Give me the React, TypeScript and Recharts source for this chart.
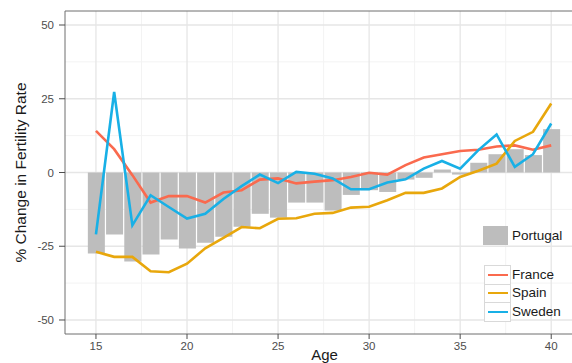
import React from "react";
import { Bar, CartesianGrid, ComposedChart, Line, ReferenceLine, XAxis, YAxis } from "recharts";

// values
const ages = [15, 16, 17, 18, 19, 20, 21, 22, 23, 24, 25, 26, 27, 28, 29, 30, 31, 32, 33, 34, 35, 36, 37, 38, 39, 40];
const portugal = [-27.5, -21.0, -30.2, -27.8, -22.7, -25.8, -23.8, -21.8, -18.4, -14.0, -15.3, -10.2, -10.2, -12.9, -7.6, -6.0, -6.6, -2.4, -1.8, 1.0, -0.7, 3.3, 6.2, 7.9, 5.9, 14.7];
const france = [14.1, 7.9, -0.9, -10.2, -8.0, -8.0, -10.2, -6.8, -6.0, -2.4, -2.0, -3.7, -3.1, -2.6, -1.5, -0.1, -0.7, 2.5, 5.1, 6.2, 7.3, 7.7, 8.8, 9.2, 7.7, 9.2];
const spain = [-26.9, -28.6, -28.6, -33.5, -33.8, -30.9, -25.7, -22.2, -18.5, -18.9, -15.7, -15.5, -14.0, -13.7, -11.9, -11.6, -9.4, -6.9, -6.9, -5.4, -1.5, 0.6, 3.0, 10.7, 13.8, 23.4];
const sweden = [-21.0, 27.3, -17.9, -7.7, -11.7, -15.6, -14.0, -9.0, -4.6, -0.7, -3.6, 0.2, -0.4, -2.0, -5.7, -5.7, -3.4, -2.3, 1.3, 3.9, 1.3, 7.6, 12.9, 1.9, 6.2, 16.6];

const xTicks = [15, 20, 25, 30, 35, 40];
const yTicks = [-50, -25, 0, 25, 50];
const xMinor = [17.5, 22.5, 27.5, 32.5, 37.5];
const yMinor = [-37.5, -12.5, 12.5, 37.5];

const lineSeries = [
  { key: "France", color: "#fa6a4e", values: france },
  { key: "Spain", color: "#e8a70c", values: spain },
  { key: "Sweden", color: "#18b0e6", values: sweden },
];

const data = ages.map((age, i) => ({
  age,
  Portugal: portugal[i],
  France: france[i],
  Spain: spain[i],
  Sweden: sweden[i],
}));

const font = "'Liberation Sans', Arial, Helvetica, sans-serif";
const tickStyle = { fontSize: 11.5, fill: "#4d4d4d", fontFamily: font };

export default function App() {
  return (
    <div style={{ position: "absolute", left: 0, top: 0, width: 572, height: 363, overflow: "hidden", background: "#fff", fontFamily: font }}>
      <ComposedChart width={600} height={363} data={data} margin={{ top: 11, right: 16, bottom: 0, left: 0 }}>
        <CartesianGrid stroke="#f3f3f3" strokeWidth={1} horizontalValues={yMinor} verticalValues={xMinor} />
        <CartesianGrid stroke="#e6e6e6" strokeWidth={1.3} horizontalValues={yTicks} verticalValues={xTicks} />
        <XAxis
          dataKey="age"
          type="number"
          domain={[13.3, 41.8]}
          ticks={xTicks}
          height={29}
          tickSize={5}
          tickMargin={3}
          tick={tickStyle}
          stroke="#6f6f6f"
          tickLine={{ stroke: "#4d4d4d" }}
          label={{ value: "Age", position: "insideBottom", offset: 3, fontSize: 15, fill: "#1a1a1a", fontFamily: font }}
        />
        <YAxis
          type="number"
          domain={[-54.75, 54.75]}
          ticks={yTicks}
          width={65}
          tickSize={6}
          tickMargin={5}
          tick={tickStyle}
          stroke="#6f6f6f"
          tickLine={{ stroke: "#4d4d4d" }}
          label={{ value: "% Change in Fertility Rate", angle: -90, position: "center", dx: -12, fontSize: 15.5, fill: "#1a1a1a", fontFamily: font }}
        />
        <ReferenceLine y={54.75} stroke="#6f6f6f" ifOverflow="visible" />
        <Bar dataKey="Portugal" fill="#bdbdbd" barSize={17} isAnimationActive={false} />
        {lineSeries.map((s) => (
          <Line
            key={s.key}
            dataKey={s.key}
            type="linear"
            stroke={s.color}
            strokeWidth={2.6}
            dot={false}
            activeDot={false}
            isAnimationActive={false}
          />
        ))}
      </ComposedChart>

      {/* legends, ggplot style */}
      <div style={{ position: "absolute", left: 483, top: 226, width: 25, height: 19, background: "#bdbdbd" }} />
      <div style={{ position: "absolute", left: 512, top: 227, fontSize: 13.5, color: "#1a1a1a", lineHeight: "17px" }}>Portugal</div>

      <div style={{ position: "absolute", left: 484, top: 265, width: 25, border: "1px solid #d9d9d9", background: "#fff" }}>
        {lineSeries.map((s, i) => (
          <div
            key={s.key}
            style={{ height: 17.5, borderTop: i ? "1px solid #d9d9d9" : "none", position: "relative" }}
          >
            <div style={{ position: "absolute", left: 2.5, right: 2.5, top: 7.5, height: 2.2, background: s.color }} />
          </div>
        ))}
      </div>
      {lineSeries.map((s, i) => (
        <div
          key={s.key}
          style={{ position: "absolute", left: 512, top: 266 + i * 18.3, fontSize: 13.5, color: "#1a1a1a", lineHeight: "17px" }}
        >
          {s.key}
        </div>
      ))}
    </div>
  );
}
